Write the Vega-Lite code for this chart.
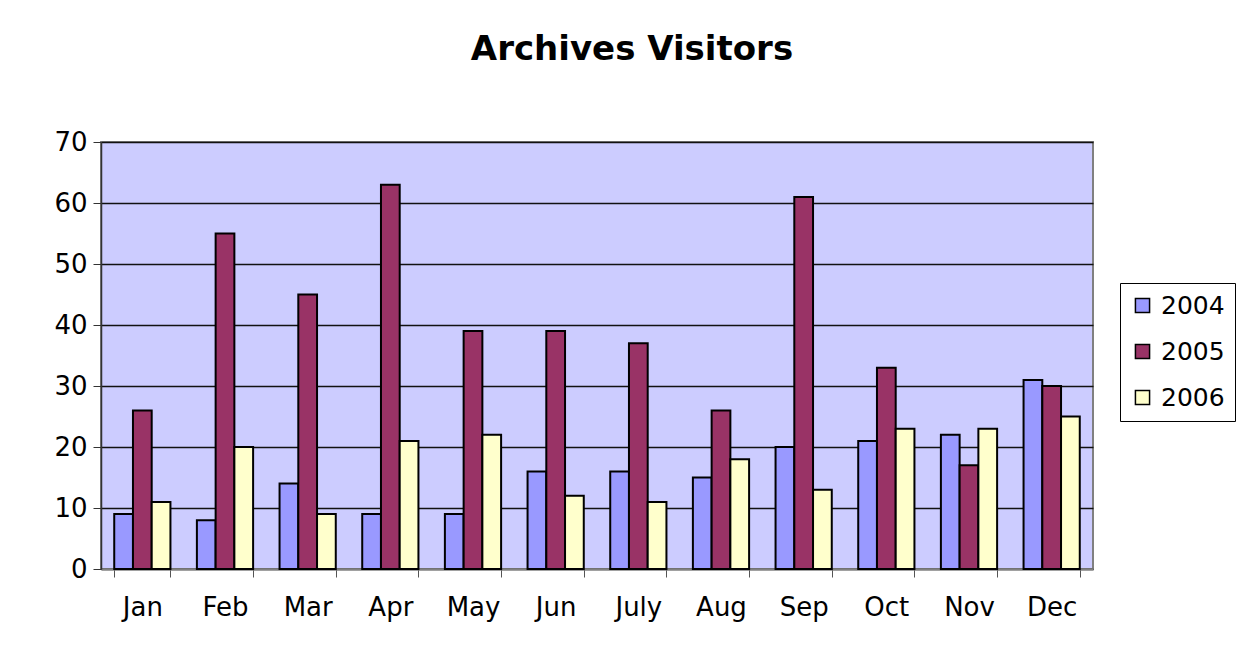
{
  "$schema": "https://vega.github.io/schema/vega-lite/v6.json",
  "autosize": "none",
  "width": 992,
  "height": 427,
  "padding": {"left": 101, "top": 142, "right": 154, "bottom": 86},
  "background": "white",
  "title": {
    "text": "Archives Visitors",
    "font": "DejaVu Sans",
    "fontSize": 34,
    "fontWeight": "bold",
    "color": "black",
    "anchor": "middle",
    "dx": 35,
    "offset": 62
  },
  "data": {
    "values": [
      {"month": "Jan", "year": "2004", "visitors": 9},
      {"month": "Jan", "year": "2005", "visitors": 26},
      {"month": "Jan", "year": "2006", "visitors": 11},
      {"month": "Feb", "year": "2004", "visitors": 8},
      {"month": "Feb", "year": "2005", "visitors": 55},
      {"month": "Feb", "year": "2006", "visitors": 20},
      {"month": "Mar", "year": "2004", "visitors": 14},
      {"month": "Mar", "year": "2005", "visitors": 45},
      {"month": "Mar", "year": "2006", "visitors": 9},
      {"month": "Apr", "year": "2004", "visitors": 9},
      {"month": "Apr", "year": "2005", "visitors": 63},
      {"month": "Apr", "year": "2006", "visitors": 21},
      {"month": "May", "year": "2004", "visitors": 9},
      {"month": "May", "year": "2005", "visitors": 39},
      {"month": "May", "year": "2006", "visitors": 22},
      {"month": "Jun", "year": "2004", "visitors": 16},
      {"month": "Jun", "year": "2005", "visitors": 39},
      {"month": "Jun", "year": "2006", "visitors": 12},
      {"month": "July", "year": "2004", "visitors": 16},
      {"month": "July", "year": "2005", "visitors": 37},
      {"month": "July", "year": "2006", "visitors": 11},
      {"month": "Aug", "year": "2004", "visitors": 15},
      {"month": "Aug", "year": "2005", "visitors": 26},
      {"month": "Aug", "year": "2006", "visitors": 18},
      {"month": "Sep", "year": "2004", "visitors": 20},
      {"month": "Sep", "year": "2005", "visitors": 61},
      {"month": "Sep", "year": "2006", "visitors": 13},
      {"month": "Oct", "year": "2004", "visitors": 21},
      {"month": "Oct", "year": "2005", "visitors": 33},
      {"month": "Oct", "year": "2006", "visitors": 23},
      {"month": "Nov", "year": "2004", "visitors": 22},
      {"month": "Nov", "year": "2005", "visitors": 17},
      {"month": "Nov", "year": "2006", "visitors": 23},
      {"month": "Dec", "year": "2004", "visitors": 31},
      {"month": "Dec", "year": "2005", "visitors": 30},
      {"month": "Dec", "year": "2006", "visitors": 25}
    ]
  },
  "mark": {"type": "bar", "stroke": "black", "strokeWidth": 2},
  "encoding": {
    "x": {
      "field": "month",
      "type": "nominal",
      "sort": null,
      "title": null,
      "scale": {"paddingInner": 0.32, "paddingOuter": 0.16},
      "axis": {
        "labelAngle": 0,
        "labelFont": "DejaVu Sans",
        "labelFontSize": 26,
        "labelColor": "black",
        "labelPadding": 17,
        "tickBand": "extent",
        "tickSize": 8,
        "tickColor": "#555555",
        "domainColor": "#808080",
        "domainWidth": 2,
        "grid": false
      }
    },
    "xOffset": {"field": "year", "type": "nominal"},
    "y": {
      "field": "visitors",
      "type": "quantitative",
      "title": null,
      "scale": {"domain": [0, 70], "nice": false},
      "axis": {
        "values": [0, 10, 20, 30, 40, 50, 60, 70],
        "labelFont": "DejaVu Sans",
        "labelFontSize": 26,
        "labelColor": "black",
        "labelPadding": 6,
        "tickSize": 8,
        "tickColor": "#333333",
        "domainColor": "#333333",
        "domainWidth": 1.5,
        "grid": true,
        "gridColor": "#111111",
        "gridWidth": 1.4,
        "gridOpacity": 1
      }
    },
    "color": {
      "field": "year",
      "type": "nominal",
      "scale": {"domain": ["2004", "2005", "2006"], "range": ["#9999FF", "#993366", "#FFFFCC"]},
      "legend": {
        "title": null,
        "orient": "none",
        "legendX": 1019,
        "legendY": 141,
        "symbolType": "square",
        "symbolSize": 200,
        "symbolStrokeColor": "black",
        "symbolStrokeWidth": 1.5,
        "symbolOpacity": 1,
        "labelFont": "DejaVu Sans",
        "labelFontSize": 25,
        "labelColor": "black",
        "labelOffset": 6,
        "rowPadding": 20,
        "strokeColor": "black",
        "padding": 10,
        "fillColor": "white"
      }
    }
  },
  "config": {
    "view": {"fill": "#CCCCFF", "stroke": "#808080", "strokeWidth": 2}
  }
}
